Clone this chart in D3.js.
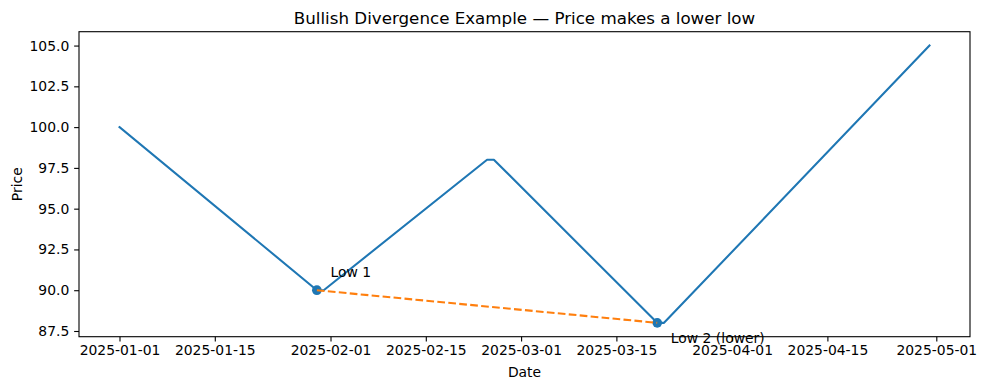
<!DOCTYPE html>
<html>
<head>
<meta charset="utf-8">
<script src="https://cdn.jsdelivr.net/npm/d3@7"></script>
<style>
  html, body { margin: 0; padding: 0; background: #fff; }
  svg { display: block; font-family: "DejaVu Sans", sans-serif; }
</style>
</head>
<body>
<svg id="chart" width="985" height="390"></svg>
<script>
// ---- data (vertices of the price path) ----
const dates  = ["2025-01-01", "2025-01-30", "2025-01-31", "2025-02-24", "2025-02-25", "2025-03-21", "2025-03-22", "2025-04-30"];
const prices = [100, 90, 90, 98, 98, 88, 88, 105];
const lowDates  = ["2025-01-30", "2025-03-21"];
const lowPrices = [90, 88];
const lowLabels = ["Low 1", "Low 2 (lower)"];
const xTickLabels = ["2025-01-01", "2025-01-15", "2025-02-01", "2025-02-15", "2025-03-01", "2025-03-15", "2025-04-01", "2025-04-15", "2025-05-01"];
const yTickValues = [87.5, 90.0, 92.5, 95.0, 97.5, 100.0, 102.5, 105.0];
const titleText = "Bullish Divergence Example \u2014 Price makes a lower low";

(function () {
const parse = s => { const [yy, m, d] = s.split("-").map(Number); return new Date(Date.UTC(yy, m - 1, d)); };
const DAY = 86400000;

const svg = d3.select("#chart");
svg.append("rect").attr("width", 985).attr("height", 390).attr("fill", "#fff");

const L = 79, R = 970, T = 31.7, B = 336.7;

const xs = dates.map(parse);
const xMin = d3.min(xs), xMax = d3.max(xs);
const xPad = (xMax - xMin) * 0.05;
const x = d3.scaleUtc().domain([new Date(+xMin - xPad), new Date(+xMax + xPad)]).range([L, R]);
const yLo = d3.min(prices), yHi = d3.max(prices), yPad = (yHi - yLo) * 0.05;
const y = d3.scaleLinear().domain([yLo - yPad, yHi + yPad]).range([B, T]);

const pts = xs.map((d, i) => [d, prices[i]]);
const lows = lowDates.map((d, i) => [parse(d), lowPrices[i]]);

// x axis
const xAxis = d3.axisBottom(x)
  .tickValues(xTickLabels.map(parse))
  .tickFormat(d3.utcFormat("%Y-%m-%d"))
  .tickSize(4.86).tickPadding(3.4);
const gx = svg.append("g").attr("transform", `translate(0,${B})`).call(xAxis);
gx.select(".domain").remove();
gx.selectAll(".tick line").attr("stroke", "#000").attr("stroke-width", 1.1);
gx.selectAll(".tick text").attr("font-size", "13.9px").attr("fill", "#000").attr("font-family", "DejaVu Sans");

// y axis
const yAxis = d3.axisLeft(y)
  .tickValues(yTickValues)
  .tickFormat(d3.format(".1f"))
  .tickSize(4.86).tickPadding(4.86);
const gy = svg.append("g").attr("transform", `translate(${L},0)`).call(yAxis);
gy.select(".domain").remove();
gy.selectAll(".tick line").attr("stroke", "#000").attr("stroke-width", 1.1);
gy.selectAll(".tick text").attr("font-size", "13.9px").attr("fill", "#000").attr("font-family", "DejaVu Sans");

// clip
svg.append("clipPath").attr("id", "clip").append("rect")
  .attr("x", L).attr("y", T).attr("width", R - L).attr("height", B - T);

const plot = svg.append("g").attr("clip-path", "url(#clip)");

// price line
plot.append("path")
  .datum(pts)
  .attr("d", d3.line().x(d => x(d[0])).y(d => y(d[1])))
  .attr("fill", "none").attr("stroke", "#1f77b4").attr("stroke-width", 2.08)
  .attr("stroke-linejoin", "round").attr("stroke-linecap", "square");

// low markers
plot.selectAll("circle.low").data(lows).enter().append("circle")
  .attr("class", "low")
  .attr("cx", d => x(d[0])).attr("cy", d => y(d[1])).attr("r", 4.85)
  .attr("fill", "#1f77b4");

// divergence dashed line
plot.append("path")
  .datum(lows)
  .attr("d", d3.line().x(d => x(d[0])).y(d => y(d[1])))
  .attr("fill", "none").attr("stroke", "#ff7f0e").attr("stroke-width", 2.08)
  .attr("stroke-dasharray", "7.7,3.3");

// annotations
const annDy = [2.8, 4.0];
svg.selectAll("text.ann").data(lows).enter().append("text")
  .attr("class", "ann")
  .attr("x", d => x(new Date(+d[0] + 2 * DAY)))
  .attr("y", (d, i) => y(i === 0 ? d[1] + 1 : d[1] - 1) + annDy[i])
  .attr("font-size", "13.9px").attr("fill", "#000")
  .text((d, i) => lowLabels[i]);

// frame
svg.append("rect").attr("x", L).attr("y", T).attr("width", R - L).attr("height", B - T)
  .attr("fill", "none").attr("stroke", "#000").attr("stroke-width", 1.1);

// title & labels
svg.append("text").attr("x", (L + R) / 2).attr("y", 23.5).attr("text-anchor", "middle")
  .attr("font-size", "16.7px").attr("fill", "#000").text(titleText);
svg.append("text").attr("x", (L + R) / 2).attr("y", 376.5).attr("text-anchor", "middle")
  .attr("font-size", "13.9px").attr("fill", "#000").text("Date");
svg.append("text").attr("transform", `translate(21.5,${(T + B) / 2}) rotate(-90)`).attr("text-anchor", "middle")
  .attr("font-size", "13.9px").attr("fill", "#000").text("Price");
})();
</script>
</body>
</html>
